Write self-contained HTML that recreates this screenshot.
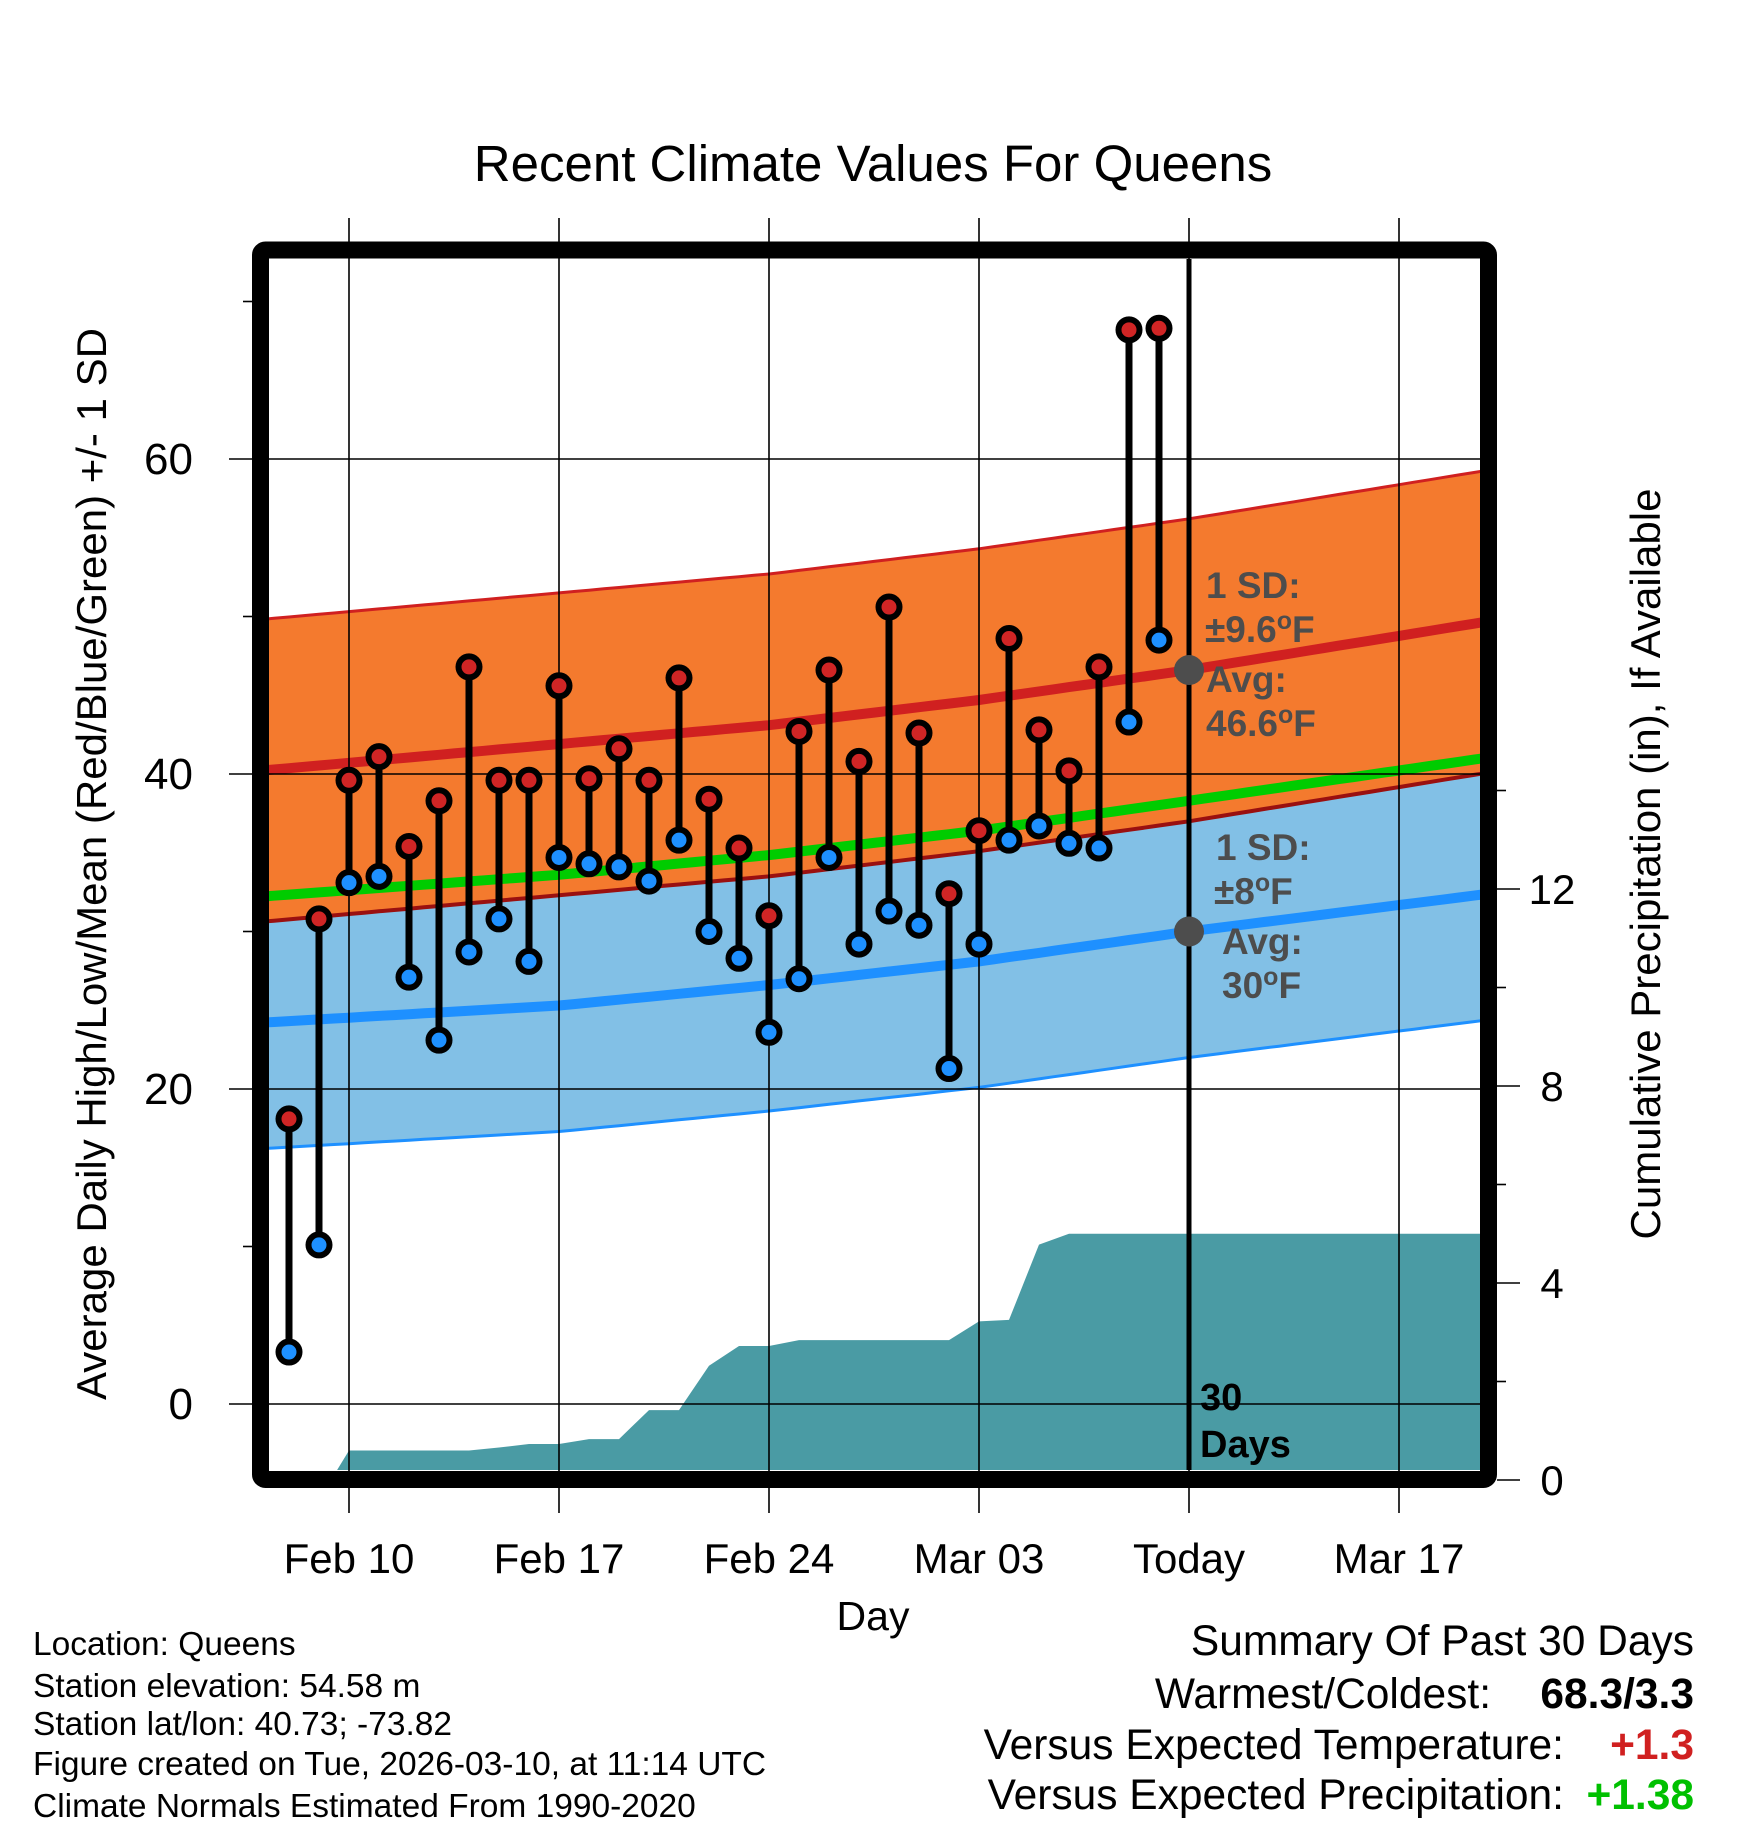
<!DOCTYPE html>
<html><head><meta charset="utf-8"><style>
html,body{margin:0;padding:0;background:#fff}
svg{display:block;font-family:"Liberation Sans",Arial,sans-serif}
</style></head><body>
<svg id="chart" xmlns="http://www.w3.org/2000/svg" width="1748" height="1828" viewBox="0 0 1748 1828">
<defs><clipPath id="plotclip"><rect x="269" y="259" width="1211" height="1211"/></clipPath></defs>
<rect x="0" y="0" width="1748" height="1828" fill="#fff"/>
<text x="873" y="181" font-size="51" text-anchor="middle">Recent Climate Values For Queens</text>
<g id="plot" clip-path="url(#plotclip)"></g>
<g id="grid"></g>
<g id="marks" clip-path="url(#plotclip)"></g>
<rect x="260.5" y="250" width="1228" height="1229.5" rx="5" fill="none" stroke="#000" stroke-width="17"/>
<g id="axes"></g>
<text transform="translate(106,864) rotate(-90)" font-size="42" text-anchor="middle">Average Daily High/Low/Mean (Red/Blue/Green) +/- 1 SD</text>
<text transform="translate(1660,864) rotate(-90)" font-size="42" text-anchor="middle">Cumulative Precipitation (in), If Available</text>
<text x="873" y="1630" font-size="41" text-anchor="middle">Day</text>
<g font-size="33.5">
<text x="33" y="1655">Location: Queens</text>
<text x="33" y="1697">Station elevation: 54.58 m</text>
<text x="33" y="1735">Station lat/lon: 40.73; -73.82</text>
<text x="33" y="1775">Figure created on Tue, 2026-03-10, at 11:14 UTC</text>
<text x="33" y="1817">Climate Normals Estimated From 1990-2020</text>
</g>
<g font-size="42.5">
<text x="1694" y="1655" text-anchor="end">Summary Of Past 30 Days</text>
<text x="1491" y="1708" text-anchor="end">Warmest/Coldest:</text>
<text x="1694" y="1708" text-anchor="end" font-weight="bold">68.3/3.3</text>
<text x="1564" y="1759" text-anchor="end">Versus Expected Temperature:</text>
<text x="1694" y="1759" text-anchor="end" font-weight="bold" fill="#d02020">+1.3</text>
<text x="1564" y="1809" text-anchor="end">Versus Expected Precipitation:</text>
<text x="1694" y="1809" text-anchor="end" font-weight="bold" fill="#00c000">+1.38</text>
</g>
</svg>
<script>
// day offsets relative to Feb 10
const obsDays = [-2,-1,0,1,2,3,4,5,6,7,8,9,10,11,12,13,14,15,16,17,18,19,20,21,22,23,24,25,26,27];
const highs = [18.1,30.8,39.6,41.1,35.4,38.3,46.8,39.6,39.6,45.6,39.7,41.6,39.6,46.1,38.4,35.3,31.0,42.7,46.6,40.8,50.6,42.6,32.4,36.4,48.6,42.8,40.2,46.8,68.2,68.3];
const lows = [3.3,10.1,33.1,33.5,27.1,23.1,28.7,30.8,28.1,34.7,34.3,34.1,33.2,35.8,30.0,28.3,23.6,27.0,34.7,29.2,31.3,30.4,21.3,29.2,35.8,36.7,35.6,35.3,43.3,48.5];
const normDays = [-3,7,14,21,28,38];
const normHigh = [40.2,41.9,43.1,44.7,46.6,49.7];
const normLow = [24.2,25.3,26.6,28.1,30.0,32.4];
const sdHigh = 9.6;
const sdLow = 8;
const precipDays = [-2,-0.6,0,1,2,3,4,5,6,7,8,9,10,11,12,13,14,15,16,17,18,19,20,21,22,23,24,38];
const precip = [0,0,0.6,0.6,0.6,0.6,0.6,0.66,0.73,0.73,0.83,0.83,1.42,1.42,2.32,2.72,2.72,2.84,2.84,2.84,2.84,2.84,2.84,3.22,3.25,4.78,5.0,5.0];
const xTickDays = [0,7,14,21,28,35];
const xTickLabels = ["Feb 10","Feb 17","Feb 24","Mar 03","Today","Mar 17"];
const yTicks = [0,20,40,60];
const yMinor = [10,30,50,70];
const pTicks = [0,4,8,12];
const pMinor = [2,6,10,14];
const todayDay = 28;

const NS="http://www.w3.org/2000/svg";
const x = d => 349 + 30*d;
const y = t => 1404 - 15.75*t;
const yp = p => 1480 - 49.25*p;
function mk(tag, attrs, parent){const e=document.createElementNS(NS,tag);for(const k in attrs)e.setAttribute(k,attrs[k]);parent.appendChild(e);return e;}
function interp(xs, ys, d){for(let i=0;i<xs.length-1;i++){if(d<=xs[i+1]){const f=(d-xs[i])/(xs[i+1]-xs[i]);return ys[i]+f*(ys[i+1]-ys[i]);}}return ys[ys.length-1];}
const plot=document.getElementById('plot'), grid=document.getElementById('grid'), marks=document.getElementById('marks'), axes=document.getElementById('axes');
const samples=[];for(let d=normDays[0];d<=normDays[normDays.length-1];d+=0.5)samples.push(d);
function linePts(fn){return samples.map(d=>x(d).toFixed(1)+','+y(fn(d)).toFixed(1)).join(' ');}
function band(fnLo,fnHi){return samples.map(d=>x(d).toFixed(1)+','+y(fnHi(d)).toFixed(1)).concat(samples.slice().reverse().map(d=>x(d).toFixed(1)+','+y(fnLo(d)).toFixed(1))).join(' ');}
const H=d=>interp(normDays,normHigh,d), L=d=>interp(normDays,normLow,d);
let e;
e=mk('polygon',{points:band(d=>L(d)-sdLow,d=>L(d)+sdLow),fill:'#82c0e6'},plot);


e=mk('polyline',{points:linePts(d=>L(d)-sdLow),fill:'none',stroke:'#1e90ff','stroke-width':3},plot);


e=mk('polyline',{points:linePts(d=>L(d)+sdLow),fill:'none',stroke:'#1e90ff','stroke-width':3},plot);


e=mk('polyline',{points:linePts(L),fill:'none',stroke:'#1e90ff','stroke-width':10},plot);


e=mk('polygon',{points:band(d=>H(d)-sdHigh,d=>H(d)+sdHigh),fill:'#f47a2e'},plot);


e=mk('polyline',{points:linePts(d=>H(d)+sdHigh),fill:'none',stroke:'#d02020','stroke-width':3},plot);


e=mk('polyline',{points:linePts(d=>H(d)-sdHigh),fill:'none',stroke:'#9a1010','stroke-width':4},plot);


e=mk('polyline',{points:linePts(H),fill:'none',stroke:'#d02020','stroke-width':10},plot);


e=mk('polyline',{points:linePts(d=>(H(d)+L(d))/2),fill:'none',stroke:'#00cc00','stroke-width':10},plot);


// precip area
const pp=precipDays.map((d,i)=>x(d).toFixed(1)+','+yp(precip[i]).toFixed(1));
pp.push(x(precipDays[precipDays.length-1])+','+yp(0));pp.unshift(x(precipDays[0])+','+yp(0));
e=mk('polygon',{points:pp.join(' '),fill:'#4a9ba4'},plot);


// grid
xTickDays.forEach(d=>{e=mk('line',{x1:x(d),x2:x(d),y1:218,y2:1513,stroke:'#000','stroke-width':1.6},grid);

});
yTicks.forEach(t=>{e=mk('line',{x1:229,x2:1480,y1:y(t),y2:y(t),stroke:'#000','stroke-width':1.6},grid);

});
// today line
e=mk('line',{x1:x(todayDay),x2:x(todayDay),y1:259,y2:1470,stroke:'#000','stroke-width':5},marks);


// stems & dots
obsDays.forEach((d,i)=>{
 e=mk('line',{x1:x(d),x2:x(d),y1:y(lows[i]),y2:y(highs[i]),stroke:'#000','stroke-width':7},marks);
 
 
});
obsDays.forEach((d,i)=>{
 e=mk('circle',{cx:x(d),cy:y(highs[i]),r:10.5,fill:'#d02525',stroke:'#000','stroke-width':6},marks);
 
 
 e=mk('circle',{cx:x(d),cy:y(lows[i]),r:10.5,fill:'#1e90ff',stroke:'#000','stroke-width':6},marks);
 
 
});
e=mk('circle',{cx:x(todayDay),cy:y(H(todayDay)),r:15,fill:'#4d4d4d'},marks);


e=mk('circle',{cx:x(todayDay),cy:y(L(todayDay)),r:15,fill:'#4d4d4d'},marks);


// annotations
function lbl(tx,ty,html,name,col,parent,fs){const t=mk('text',{x:tx,y:ty,'font-size':fs||37,'font-weight':'bold',fill:col},parent);t.innerHTML=html;return t;}
const sup='<tspan dy="-13" font-size="25">o</tspan><tspan dy="13">F</tspan>';
lbl(1206,598,'1 SD:','high-sd-label','#4d4d4d',marks);
lbl(1205,642,'±9.6'+sup,'high-sd-value','#4d4d4d',marks);
lbl(1206,692,'Avg:','high-avg-label','#4d4d4d',marks);
lbl(1206,736,'46.6'+sup,'high-avg-value','#4d4d4d',marks);
lbl(1216,860,'1 SD:','low-sd-label','#4d4d4d',marks);
lbl(1214,904,'±8'+sup,'low-sd-value','#4d4d4d',marks);
lbl(1222,954,'Avg:','low-avg-label','#4d4d4d',marks);
lbl(1222,998,'30'+sup,'low-avg-value','#4d4d4d',marks);
lbl(1200,1410,'30','days-count','#000',marks,38);
lbl(1200,1457,'Days','days-label','#000',marks,38);
// axes ticks & labels
yTicks.forEach(t=>{const tx=mk('text',{x:193,y:y(t)+15,'font-size':44,'text-anchor':'end'},axes);tx.textContent=t;

});
yMinor.forEach(t=>{e=mk('line',{x1:243,x2:252,y1:y(t),y2:y(t),stroke:'#000','stroke-width':1.6},axes);

});
pTicks.forEach(p=>{e=mk('line',{x1:1497,x2:1520,y1:yp(p),y2:yp(p),stroke:'#000','stroke-width':1.6},axes);


const tx=mk('text',{x:1552,y:yp(p)+15,'font-size':42,'text-anchor':'middle'},axes);tx.textContent=p;

});
pMinor.forEach(p=>{e=mk('line',{x1:1497,x2:1506,y1:yp(p),y2:yp(p),stroke:'#000','stroke-width':1.6},axes);

});
xTickDays.forEach((d,i)=>{const tx=mk('text',{x:x(d),y:1573,'font-size':42,'text-anchor':'middle'},axes);tx.textContent=xTickLabels[i];

});
</script>
</body></html>
